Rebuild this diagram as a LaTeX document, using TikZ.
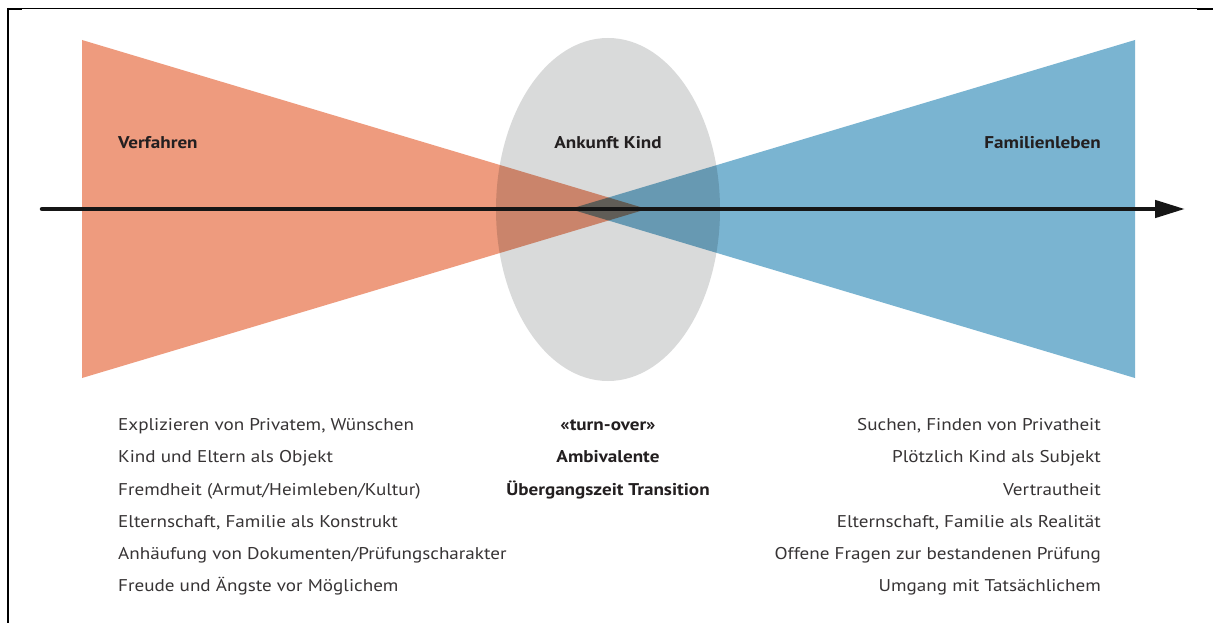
\documentclass[tikz,border=0pt]{standalone}
\usepackage{fontspec}
\setmainfont{PT Sans}[FakeStretch=1.125]
\usetikzlibrary{arrows.meta}
\definecolor{orng}{RGB}{238,155,126}
\definecolor{blu}{RGB}{122,180,209}
\definecolor{gry}{RGB}{217,218,218}
\definecolor{txt}{RGB}{55,52,53}
\definecolor{hd}{RGB}{35,31,32}
\definecolor{axis}{RGB}{22,22,22}
\tikzset{
  lefttxt/.style={anchor=base west, text=txt, font=\fontsize{17}{20}\selectfont, inner sep=0pt},
  righttxt/.style={anchor=base east, text=txt, font=\fontsize{17}{20}\selectfont, inner sep=0pt},
  midtxt/.style={anchor=base, text=hd, font=\bfseries\fontsize{17}{20}\selectfont, inner sep=0pt},
  head/.style={text=hd, font=\bfseries\fontsize{17}{20}\selectfont, inner sep=0pt},
  frame/.style={line width=1.2pt, draw=black}
}
\begin{document}
\begin{tikzpicture}[x=1pt,y=-1pt]
\useasboundingbox (0,0) rectangle (1213,623);
\fill[white] (0,0) rectangle (1213,623);
% frame
\draw[frame] (8,8.5) -- (1213,8.5);
\draw[line width=2pt] (8,9) -- (22,9);
\draw[line width=2pt] (1197,9) -- (1213,9);
\draw[line width=2pt] (8,8) -- (8,623);
% shapes
\begin{scope}[blend group=multiply]
  \fill[gry] (608,209.5) ellipse [x radius=112, y radius=171.5];
  \fill[orng] (82,40) -- (647,209) -- (82,378) -- cycle;
  \fill[blu] (1135,40) -- (570,209) -- (1135,378) -- cycle;
\end{scope}
% axis
\coordinate (as) at (42,209);
\coordinate (ae) at (1185,209);
\draw[draw=axis, line width=4.5pt, line cap=round, -{Triangle[length=30pt,width=17pt]}] (as) -- (ae);
% headings
\node[head, anchor=base west] (verf) at (118,149) {Verfahren};
\node[head, anchor=base] (ank) at (608,149) {Ankunft Kind};
\node[head, anchor=base east] (fam) at (1101,149) {Familienleben};
% left list
\node[lefttxt] (l1) at (118,430) {Explizieren von Privatem, Wünschen};
\node[lefttxt] (l2) at (118,462) {Kind und Eltern als Objekt};
\node[lefttxt] (l3) at (118,495) {Fremdheit (Armut/Heimleben/Kultur)};
\node[lefttxt] (l4) at (118,527) {Elternschaft, Familie als Konstrukt};
\node[lefttxt] (l5) at (118,559) {Anhäufung von Dokumenten/Prüfungscharakter};
\node[lefttxt] (l6) at (118,591) {Freude und Ängste vor Möglichem};
% middle
\node[midtxt] (m1) at (608,430) {«turn-over»};
\node[midtxt] (m2) at (608,462) {Ambivalente};
\node[midtxt] (m3) at (608,495) {Übergangszeit Transition};
% right list
\node[righttxt] (r1) at (1101,430) {Suchen, Finden von Privatheit};
\node[righttxt] (r2) at (1101,462) {Plötzlich Kind als Subjekt};
\node[righttxt] (r3) at (1101,495) {Vertrautheit};
\node[righttxt] (r4) at (1101,527) {Elternschaft, Familie als Realität};
\node[righttxt] (r5) at (1101,559) {Offene Fragen zur bestandenen Prüfung};
\node[righttxt] (r6) at (1101,591) {Umgang mit Tatsächlichem};
\end{tikzpicture}
\end{document}
